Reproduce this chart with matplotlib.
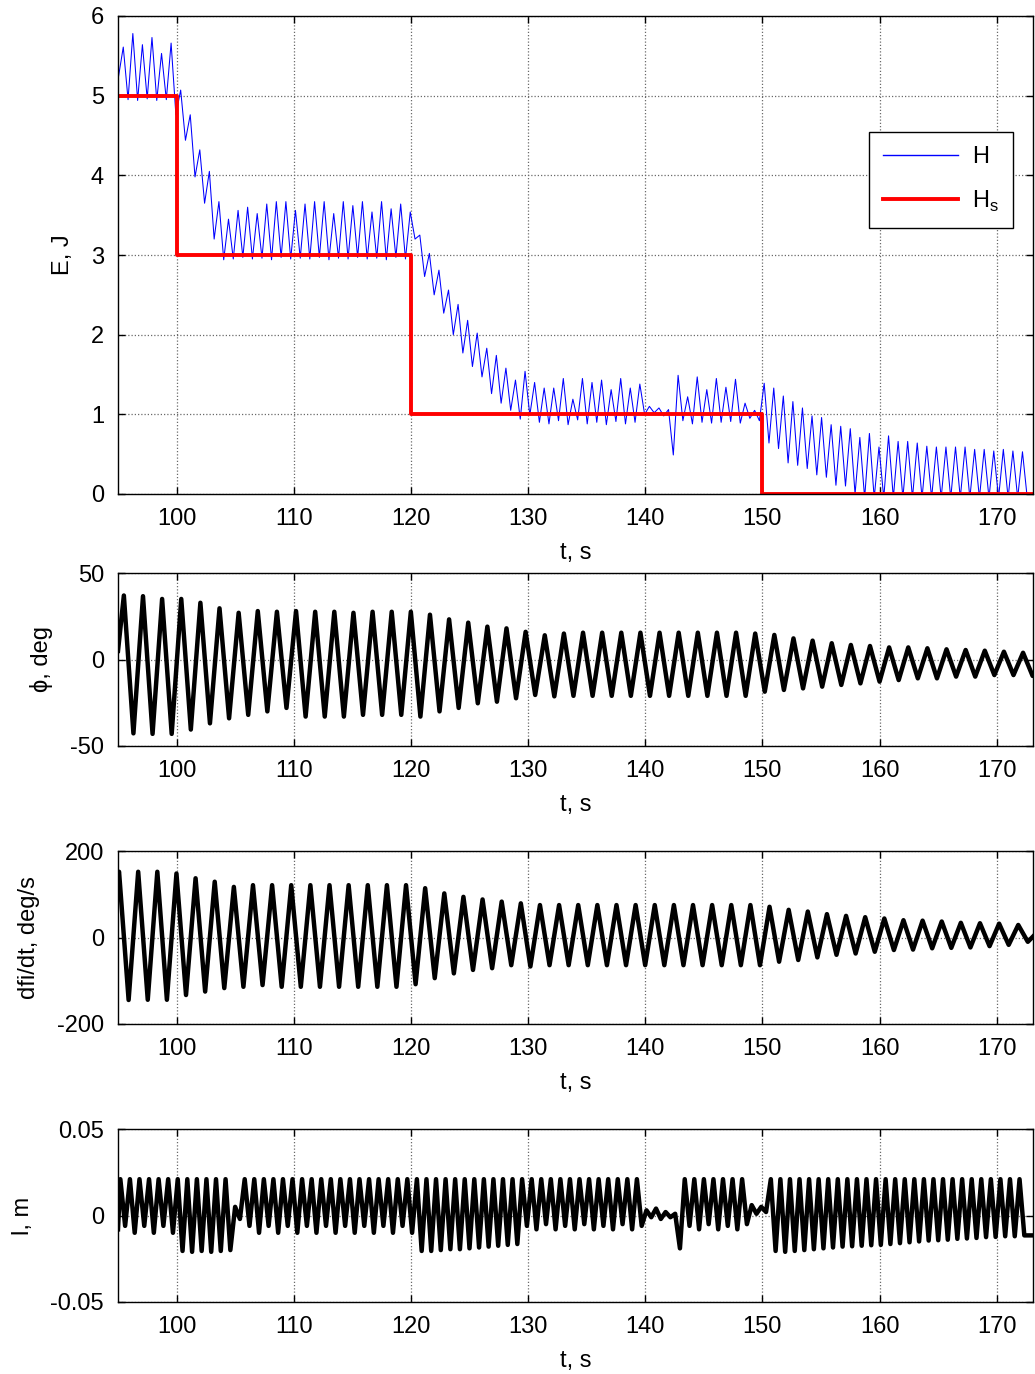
import numpy as np
import matplotlib
matplotlib.use("Agg")
import matplotlib.pyplot as plt

plt.rcParams['font.family'] = ['Liberation Sans', 'DejaVu Sans']

# ---------------- data ----------------
# swing period of the pendulum (s)
T_SWING = 1.633
T_HALF = T_SWING / 2

# Energy H: value at each half-swing peak (k=0..94), first peak at t=95.45
H_t0 = 95.45
H_max = [5.61, 5.78, 5.64, 5.73, 5.53, 5.66,
         5.07, 4.76, 4.32, 4.05, 3.67, 3.45,
         3.56, 3.60, 3.52, 3.64, 3.67, 3.67, 3.56, 3.64, 3.67, 3.67,
         3.52, 3.67, 3.62, 3.67, 3.54, 3.67, 3.58, 3.64, 3.54,
         3.25, 3.02, 2.81, 2.56, 2.38, 2.18, 2.02, 1.83, 1.74, 1.58, 1.43,
         1.54, 1.40, 1.33, 1.33, 1.45, 1.19, 1.45, 1.40, 1.43, 1.31, 1.45, 1.33, 1.38,
         1.10, 1.08, 1.06,
         1.49, 1.22, 1.47, 1.31, 1.45, 1.34, 1.44, 1.14, 1.05,
         1.39, 1.33, 1.23, 1.16, 1.08, 0.98, 0.96, 0.87, 0.85, 0.82, 0.71, 0.76,
         0.59, 0.73, 0.66, 0.66, 0.64, 0.60, 0.59, 0.59, 0.59, 0.59, 0.56, 0.56,
         0.54, 0.56, 0.54, 0.53]
# Energy H: value at the trough following each peak
H_min = [4.95, 4.94, 4.96, 4.94, 4.95,
         4.76, 4.44, 3.98, 3.65, 3.20, 2.94,
         2.95, 2.97, 2.95, 2.96, 2.94, 2.97, 2.95, 2.96, 2.95, 2.97,
         2.94, 2.96, 2.95, 2.97, 2.95, 2.96, 2.94, 2.97, 2.95,
         3.20, 2.73, 2.50, 2.27, 2.00, 1.77, 1.60, 1.47, 1.26, 1.14, 1.05, 0.94,
         0.99, 0.90, 0.88, 0.92, 0.87, 0.93, 0.88, 0.90, 0.87, 0.91, 0.88, 0.90,
         1.00, 1.02, 0.98, 0.49,
         0.92, 0.88, 0.90, 0.89, 0.90, 0.91, 0.89, 0.95,
         0.92,
         0.64, 0.57, 0.39, 0.36, 0.32, 0.24, 0.21, 0.11, 0.10, 0.00,
         -0.05, -0.05, -0.05, -0.05, -0.05, -0.05, -0.05, -0.05, -0.05,
         -0.05, -0.05, -0.05, -0.05, -0.05, -0.05, -0.05, -0.05, -0.05]
H_start = (95.0, 5.20)

# Reference energy Hs (step changes)
Hs_t = [95, 100, 100, 120, 120, 150, 150, 174]
Hs_v = [5, 5, 3, 3, 1, 1, 0, 0]

# phi (deg): peak and following trough per swing, first peak at t=95.5
phi_t0 = 95.5
phi_max = [37, 36.6, 35, 35, 32.8, 29.6, 27, 28, 27.6, 28, 27.6, 27.6,
           27, 27.6, 27.6, 27.6, 25.9, 23.2, 21.3, 19, 18, 16, 14, 15,
           15.5, 15.5, 15.5, 15.5, 15.5, 15.5, 15.5, 15.5, 15.5, 15,
           14.2, 12.2, 10.9, 9.4, 8.4, 7.8, 7.0, 7.0, 6.5, 5.9, 5.5, 5.1, 4.5, 3.9]
phi_min = [-42.7, -43, -43, -40.5, -36.9, -34, -32, -30, -28, -33, -33, -33,
           -32, -32, -32, -33, -30, -28, -25.3, -24.4, -22.4, -20.5, -21.3, -21,
           -21, -21, -21, -21, -21, -21, -21, -21, -21, -18.6,
           -17.6, -16.7, -15.7, -14.7, -13.8, -12.8, -11.9, -10.9, -10.9,
           -9.9, -9.9, -9.0, -9.0, -9.5]
phi_start = (95.0, 5.0)
phi_end = (173.3, -8.5)

# dphi/dt (deg/s): peak and following trough per swing, first peak at t=95.09
dphi_t0 = 95.09
dphi_max = [152, 152, 152, 148, 137, 129, 117, 121, 121, 121, 121, 121,
            121, 121, 121, 121, 114, 102, 94, 88, 83, 79, 75, 75,
            75, 75, 75, 75, 75, 75, 75, 75, 75, 75,
            71, 64, 60, 54, 50, 47, 44, 40, 39, 37, 34, 33, 32, 29]
dphi_min = [-144.5, -144, -144, -133, -125, -117, -114, -110, -114, -114, -114, -114,
            -114, -114, -114, -108, -94, -83, -75, -71, -64, -67, -64, -64,
            -64, -64, -64, -64, -64, -64, -64, -64, -64, -64,
            -56, -52, -46, -40, -37, -33, -29, -28, -25, -24, -23, -20, -17, -10]
dphi_start = (94.8, 130)
dphi_end = (173.2, 5.0)

# l (m): peak and following trough per half-swing, first peak at t=95.2
l_t0 = 95.2
l_max = [0.021, 0.021, 0.021, 0.021, 0.021, 0.021,
         0.021, 0.021, 0.021, 0.021, 0.021, 0.021,
         0.005,
         0.021, 0.021, 0.021, 0.021, 0.021, 0.021, 0.021, 0.021, 0.021,
         0.021, 0.021, 0.021, 0.021, 0.021, 0.021, 0.021, 0.021, 0.021,
         0.021, 0.021, 0.021, 0.021, 0.021, 0.021, 0.021, 0.021, 0.021, 0.021, 0.021,
         0.021, 0.021, 0.021, 0.021, 0.021, 0.021, 0.021, 0.021, 0.021, 0.021, 0.021,
         0.021, 0.021,
         0.003, 0.004, 0.002,
         0.001,
         0.021, 0.021, 0.021, 0.021, 0.021, 0.021, 0.021,
         0.006, 0.005,
         0.021, 0.021, 0.021, 0.021, 0.021, 0.021, 0.021, 0.021, 0.021,
         0.021, 0.021, 0.021, 0.021, 0.021, 0.021, 0.021, 0.021, 0.021,
         0.021, 0.021, 0.021, 0.021, 0.021, 0.021, 0.021, 0.021, 0.021]
l_min = [-0.006, -0.010, -0.006, -0.010, -0.006, -0.010,
         -0.0205, -0.021, -0.0205, -0.021, -0.0205, -0.020,
         -0.002,
         -0.006, -0.010, -0.006, -0.010, -0.006, -0.010, -0.006, -0.010, -0.006,
         -0.010, -0.006, -0.010, -0.006, -0.010, -0.006, -0.010, -0.006, -0.010,
         -0.0205, -0.0205, -0.020, -0.0195, -0.0195, -0.019, -0.0185, -0.018, -0.0175,
         -0.017, -0.0165,
         -0.006, -0.008, -0.005, -0.008, -0.006, -0.008, -0.005, -0.008, -0.006,
         -0.008, -0.005, -0.008, -0.006,
         -0.001, -0.002, -0.001,
         -0.019,
         -0.006, -0.008, -0.005, -0.008, -0.006, -0.008, -0.005,
         0.001, 0.002,
         -0.0205, -0.021, -0.0205, -0.020, -0.0195, -0.019, -0.0185, -0.018, -0.0178,
         -0.0175, -0.0172, -0.017, -0.0165, -0.016, -0.0155, -0.015, -0.0145, -0.0143,
         -0.014, -0.0135, -0.0133, -0.013, -0.0125, -0.0124, -0.012, -0.012, -0.0115]
l_start = (95.0, -0.008)
l_end = [(173.0, -0.0115), (173.3, -0.0115)]

xticks = [100, 110, 120, 130, 140, 150, 160, 170]


def zigzag(t0, period, highs, lows):
    """Interleave read peak/trough values at their read times."""
    ts, vs = [], []
    for k, (hi, lo) in enumerate(zip(highs, lows)):
        ts += [t0 + k * period, t0 + k * period + period / 2]
        vs += [hi, lo]
    for k in range(len(lows), len(highs)):
        ts.append(t0 + k * period)
        vs.append(highs[k])
    return ts, vs


# ---------------- figure ----------------
fig = plt.figure(figsize=(10.35, 13.74), dpi=100)
W = 1035.0
Hh = 1374.0
left = 118 / W
width = (1033 - 118) / W


def make_ax(top_px, bot_px):
    return fig.add_axes([left, 1 - bot_px / Hh, width, (bot_px - top_px) / Hh])


axes = [make_ax(16, 494), make_ax(573, 746), make_ax(851, 1024), make_ax(1129, 1302)]

FS = 17
LW = 3.2
YLPAD = 12

# Panel 1: energy
ax = axes[0]
tH, vH = zigzag(H_t0, T_HALF, H_max, H_min)
ax.plot([H_start[0]] + tH, [H_start[1]] + vH, color=(0, 0, 1), lw=0.75,
        label='H', zorder=3)
ax.plot(Hs_t, Hs_v, color=(1, 0, 0), lw=2.8, label='H$_\\mathregular{s}$', zorder=4)
ax.set_ylim(0, 6)
ax.set_yticks([0, 1, 2, 3, 4, 5, 6])
ax.set_ylabel('E, J', fontsize=FS, labelpad=YLPAD)
leg = ax.legend(loc='upper right', bbox_to_anchor=(0.978, 0.757), fontsize=FS,
                handlelength=3.15, frameon=True, fancybox=False, borderpad=0.6,
                labelspacing=0.85, handletextpad=0.6, borderaxespad=0)
leg.get_frame().set_edgecolor('black')
leg.get_frame().set_linewidth(1.0)
leg.get_frame().set_alpha(1.0)
leg.get_lines()[0].set_linewidth(1.0)

# Panel 2: phi
ax = axes[1]
tp, vp = zigzag(phi_t0, T_SWING, phi_max, phi_min)
ax.plot([phi_start[0]] + tp + [phi_end[0]], [phi_start[1]] + vp + [phi_end[1]],
        color='black', lw=LW, solid_joinstyle='round', zorder=3)
ax.set_ylim(-50, 50)
ax.set_yticks([-50, 0, 50])
ax.set_yticklabels(['-50', '0', '50'])
ax.set_ylabel('ϕ, deg', fontsize=FS, labelpad=YLPAD)

# Panel 3: dphi/dt
ax = axes[2]
td, vd = zigzag(dphi_t0, T_SWING, dphi_max, dphi_min)
ax.plot([dphi_start[0]] + td + [dphi_end[0]], [dphi_start[1]] + vd + [dphi_end[1]],
        color='black', lw=LW, solid_joinstyle='round', zorder=3)
ax.set_ylim(-200, 200)
ax.set_yticks([-200, 0, 200])
ax.set_yticklabels(['-200', '0', '200'])
ax.set_ylabel('dfi/dt, deg/s', fontsize=FS, labelpad=YLPAD)

# Panel 4: l
ax = axes[3]
tl, vl = zigzag(l_t0, T_HALF, l_max, l_min)
ax.plot([l_start[0]] + tl + [p[0] for p in l_end],
        [l_start[1]] + vl + [p[1] for p in l_end],
        color='black', lw=LW, solid_joinstyle='round', zorder=3)
ax.set_ylim(-0.05, 0.05)
ax.set_yticks([-0.05, 0, 0.05])
ax.set_yticklabels(['-0.05', '0', '0.05'])
ax.set_ylabel('l, m', fontsize=FS, labelpad=YLPAD)

for ax in axes:
    ax.set_xlim(95, 173.1)
    ax.set_xticks(xticks)
    ax.set_xlabel('t, s', fontsize=FS, labelpad=9)
    ax.tick_params(direction='in', length=5, width=1, top=True, right=True,
                   labelsize=FS, pad=10)
    ax.grid(True, color='#6a6a6a', linestyle=(0, (1, 1.6)), linewidth=0.9)
    ax.set_axisbelow(True)
    for s in ax.spines.values():
        s.set_linewidth(1.0)
        s.set_zorder(5)

fig.savefig('out.png', dpi=100)
